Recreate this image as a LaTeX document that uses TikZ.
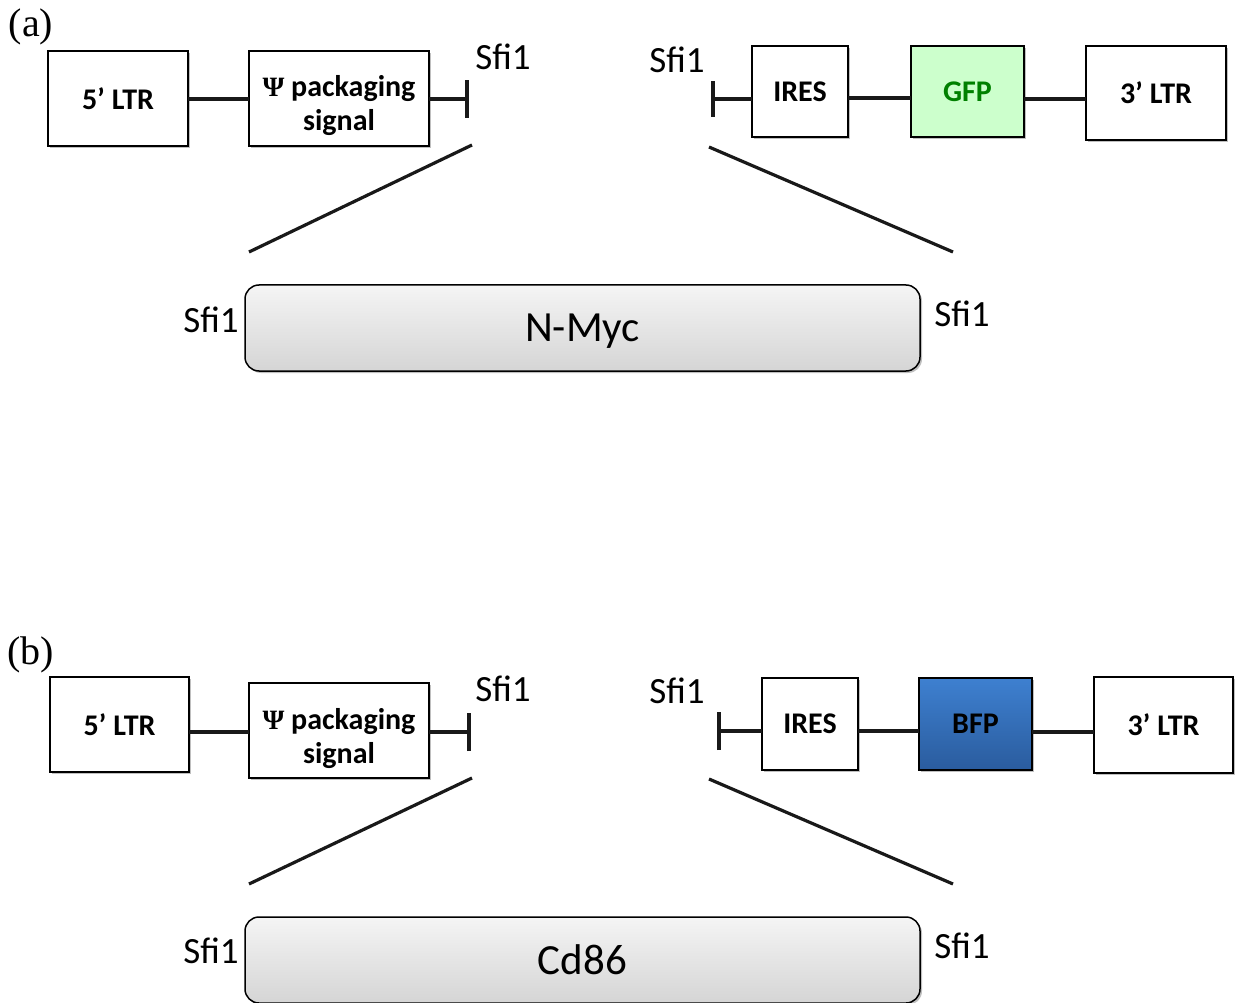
\documentclass[tikz,border=0pt]{standalone}
\usepackage{fontspec}
\setmainfont{Carlito}
\newfontfamily\serifface{Liberation Serif}
\usetikzlibrary{shadows}
\definecolor{gfpfill}{RGB}{204,255,204}
\definecolor{gfptext}{RGB}{0,128,0}
\definecolor{bfptop}{RGB}{62,128,208}
\definecolor{bfpbot}{RGB}{42,92,158}
\tikzset{
  element/.style={draw=black, line width=1.5pt, fill=white, inner sep=0pt, outer sep=0pt,
    align=center, text depth=0pt, font=\fontsize{30}{34}\selectfont\bfseries,
    drop shadow={shadow xshift=2pt, shadow yshift=-2pt, opacity=0.25, fill=black}},
  twoline/.style={text height=65pt, text depth=0pt},
  insert/.style={draw=black, line width=1.5pt, rounded corners=14pt, inner sep=0pt, outer sep=0pt,
    text depth=0pt, top color=gray!8, bottom color=gray!33, font=\fontsize{43}{48}\selectfont,
    drop shadow={shadow xshift=2pt, shadow yshift=-2pt, opacity=0.25, fill=black}},
  link/.style={line width=3.2pt, draw=black!90},
  site/.style={font=\fontsize{37}{42}\selectfont, inner sep=0pt},
  panel/.style={font=\serifface\fontsize{40}{44}\selectfont, inner sep=0pt},
}
\newcommand{\psiword}{{\serifface\bfseries\fontsize{28}{30}\selectfont Ψ} packaging\\signal}
\begin{document}
\begin{tikzpicture}[x=1pt, y=-1pt]
\useasboundingbox (0,0) rectangle (1235,1003);

% ---------------- construct (a) ----------------
\node[panel] (lblA) at (31,27) {(a)};
\node[element, minimum width=140pt, minimum height=95pt] (ltr5a) at (118,98.5) {5’ LTR};
\node[element, twoline, minimum width=180pt, minimum height=95pt] (psia) at (339,98.5) {\psiword};
\coordinate (sfiLa) at (467,99);
\node[site] (sfiLaTxt) at (503,57) {Sfi1};

\coordinate (sfiRa) at (713,99);
\node[site] (sfiRaTxt) at (677,60) {Sfi1};
\node[element, minimum width=96pt, minimum height=91pt] (iresa) at (800,91.5) {IRES};
\node[element, minimum width=113pt, minimum height=91pt, fill=gfpfill, text=gfptext] (gfp) at (967.5,91.5) {GFP};
\node[element, minimum width=140pt, minimum height=94pt] (ltr3a) at (1156,93) {3’ LTR};

\draw[link] (ltr5a.east |- 0,99) -- (psia.west |- 0,99);
\draw[link] (psia.east |- sfiLa) -- (sfiLa);
\draw[link] ([yshift=-19pt]sfiLa) -- ([yshift=19pt]sfiLa);
\draw[link] (sfiRa) -- (iresa.west |- sfiRa);
\draw[link] ([yshift=-18pt]sfiRa) -- ([yshift=18pt]sfiRa);
\draw[link] (iresa.east |- 0,98) -- (gfp.west |- 0,98);
\draw[link] (gfp.east |- 0,99) -- (ltr3a.west |- 0,99);

\node[insert, minimum width=675pt, minimum height=86pt] (nmyc) at (582.5,328) {N-Myc};
\node[site] (sfiIn1a) at (211,320) {Sfi1};
\node[site] (sfiIn2a) at (962,314) {Sfi1};

\coordinate (zlTopA) at (472,145);
\coordinate (zlBotA) at (249,252);
\coordinate (zrTopA) at (709,147);
\coordinate (zrBotA) at (953,252);
\draw[link] (zlTopA) -- (zlBotA);
\draw[link] (zrTopA) -- (zrBotA);

% ---------------- construct (b) ----------------
\node[panel] (lblB) at (31,655) {(b)};
\node[element, minimum width=139pt, minimum height=95pt] (ltr5b) at (119.5,724.5) {5’ LTR};
\node[element, twoline, minimum width=180pt, minimum height=95pt] (psib) at (339,730.5) {\psiword};
\coordinate (sfiLb) at (469,732);
\node[site] (sfiLbTxt) at (503,689) {Sfi1};

\coordinate (sfiRb) at (719,731);
\node[site] (sfiRbTxt) at (677,691) {Sfi1};
\node[element, minimum width=96pt, minimum height=92pt] (iresb) at (810,724) {IRES};
\node[element, minimum width=113pt, minimum height=92pt, top color=bfptop, bottom color=bfpbot, text=black] (bfp) at (975.5,724) {BFP};
\node[element, minimum width=139pt, minimum height=96pt] (ltr3b) at (1163.5,725) {3’ LTR};

\draw[link] (ltr5b.east |- 0,732) -- (psib.west |- 0,732);
\draw[link] (psib.east |- sfiLb) -- (sfiLb);
\draw[link] ([yshift=-19pt]sfiLb) -- ([yshift=19pt]sfiLb);
\draw[link] (sfiRb) -- (iresb.west |- sfiRb);
\draw[link] ([yshift=-19pt]sfiRb) -- ([yshift=19pt]sfiRb);
\draw[link] (iresb.east |- 0,731) -- (bfp.west |- 0,731);
\draw[link] (bfp.east |- 0,732) -- (ltr3b.west |- 0,732);

\node[insert, minimum width=675pt, minimum height=86pt] (cd86) at (582.5,960) {Cd86};
\node[site] (sfiIn1b) at (211,951) {Sfi1};
\node[site] (sfiIn2b) at (962,946) {Sfi1};

\coordinate (zlTopB) at (472,778);
\coordinate (zlBotB) at (249,884);
\coordinate (zrTopB) at (709,779);
\coordinate (zrBotB) at (953,884);
\draw[link] (zlTopB) -- (zlBotB);
\draw[link] (zrTopB) -- (zrBotB);
\end{tikzpicture}
\end{document}
